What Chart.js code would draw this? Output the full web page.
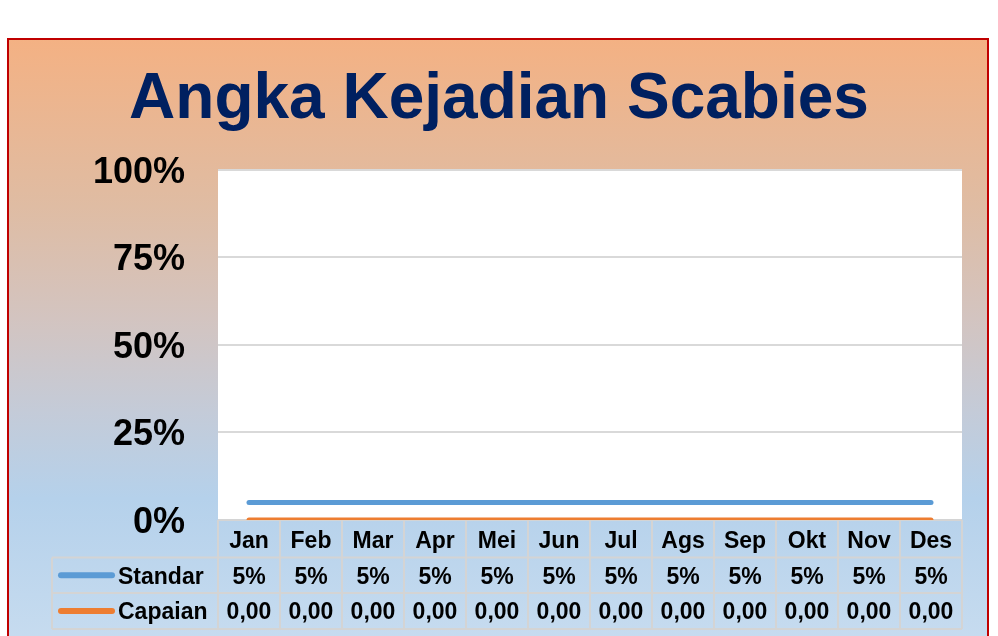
<!DOCTYPE html>
<html>
<head>
<meta charset="utf-8">
<title>Angka Kejadian Scabies</title>
<script src="https://cdn.jsdelivr.net/npm/chart.js@4"></script>
<style>
  html, body { margin: 0; padding: 0; background: #fff; }
  #wrap { width: 998px; height: 636px; }
</style>
</head>
<body>
<div id="wrap"><canvas id="scabiesChart" width="998" height="636"></canvas></div>
<script>
// Monthly data
const months = ["Jan", "Feb", "Mar", "Apr", "Mei", "Jun", "Jul", "Ags", "Sep", "Okt", "Nov", "Des"];
const standar = [0.05, 0.05, 0.05, 0.05, 0.05, 0.05, 0.05, 0.05, 0.05, 0.05, 0.05, 0.05];
const capaian = [0, 0, 0, 0, 0, 0, 0, 0, 0, 0, 0, 0];
const standarLabels = ["5%", "5%", "5%", "5%", "5%", "5%", "5%", "5%", "5%", "5%", "5%", "5%"];
const capaianLabels = ["0,00", "0,00", "0,00", "0,00", "0,00", "0,00", "0,00", "0,00", "0,00", "0,00", "0,00", "0,00"];
const yTicks = [0, 0.25, 0.5, 0.75, 1];

const FONT = "'Liberation Sans', Arial, sans-serif";
const BLUE = "#5B9BD5";
const ORANGE = "#ED7D31";

// Gradient panel with red frame behind the chart
const panelBackground = {
  id: "panelBackground",
  beforeDraw(chart) {
    const ctx = chart.ctx;
    ctx.save();
    ctx.fillStyle = "#ffffff";
    ctx.fillRect(0, 0, chart.width, chart.height);
    const top = 38, bottom = 660;
    const grad = ctx.createLinearGradient(0, top, 0, bottom);
    grad.addColorStop(0, "#F4B183");
    grad.addColorStop(0.27, "#DFBCA3");
    grad.addColorStop(0.45, "#D3C4C0");
    grad.addColorStop(0.6, "#C4CBD8");
    grad.addColorStop(0.74, "#B5D1EB");
    grad.addColorStop(1, "#C9DDF0");
    ctx.fillStyle = grad;
    ctx.fillRect(8, top, 981, bottom - top);
    // white plot area
    const a = chart.chartArea;
    ctx.fillStyle = "#ffffff";
    ctx.fillRect(a.left, a.top, a.right - a.left, a.bottom - a.top);
    ctx.strokeStyle = "#C00000";
    ctx.lineWidth = 2;
    ctx.strokeRect(8, top + 1, 980, bottom);
    ctx.restore();
  }
};

// Data table under the plot, columns follow the category scale
const dataTable = {
  id: "dataTable",
  beforeDatasetsDraw(chart) {
    const ctx = chart.ctx;
    const x = chart.scales.x;
    const a = chart.chartArea;
    const colW = (a.right - a.left) / months.length;
    const rowTops = [a.bottom, 557.5, 593, 629];
    const tableLeft = 52;

    ctx.save();
    ctx.strokeStyle = "#D4D4D4";
    ctx.lineWidth = 2;
    // horizontal lines
    ctx.beginPath();
    ctx.moveTo(a.left, rowTops[0]);
    ctx.lineTo(a.right, rowTops[0]);
    for (let r = 1; r < rowTops.length; r++) {
      ctx.moveTo(tableLeft, rowTops[r]);
      ctx.lineTo(a.right, rowTops[r]);
    }
    // vertical lines
    ctx.moveTo(tableLeft, rowTops[1]);
    ctx.lineTo(tableLeft, rowTops[3]);
    for (let i = 0; i <= months.length; i++) {
      const px = a.left + i * colW;
      ctx.moveTo(px, rowTops[0]);
      ctx.lineTo(px, rowTops[3]);
    }
    ctx.stroke();

    ctx.fillStyle = "#000000";
    ctx.font = "bold 23px " + FONT;
    ctx.textAlign = "center";
    ctx.textBaseline = "middle";
    months.forEach((m, i) => {
      const cx = x.getPixelForValue(i);
      ctx.fillText(m, cx, (rowTops[0] + rowTops[1]) / 2 + 3);
      ctx.fillText(standarLabels[i], cx, (rowTops[1] + rowTops[2]) / 2 + 2);
      ctx.fillText(capaianLabels[i], cx, (rowTops[2] + rowTops[3]) / 2 + 2);
    });

    // legend keys in row headers
    const rows = [
      { label: chart.data.datasets[0].label, color: BLUE, y: (rowTops[1] + rowTops[2]) / 2 },
      { label: chart.data.datasets[1].label, color: ORANGE, y: (rowTops[2] + rowTops[3]) / 2 }
    ];
    rows.forEach(r => {
      ctx.strokeStyle = r.color;
      ctx.lineWidth = 6;
      ctx.lineCap = "round";
      ctx.beginPath();
      ctx.moveTo(61, r.y);
      ctx.lineTo(112, r.y);
      ctx.stroke();
      ctx.textAlign = "left";
      ctx.fillText(r.label, 118, r.y + 2);
    });
    ctx.restore();
  }
};

const ctx = document.getElementById("scabiesChart").getContext("2d");
const chart = new Chart(ctx, {
  type: "line",
  data: {
    labels: months,
    datasets: [
      {
        label: "Standar",
        data: standar,
        borderColor: BLUE,
        borderWidth: 5,
        borderCapStyle: "round",
        pointRadius: 0,
        fill: false
      },
      {
        label: "Capaian",
        data: capaian,
        borderColor: ORANGE,
        borderWidth: 5,
        borderCapStyle: "round",
        pointRadius: 0,
        fill: false
      }
    ]
  },
  options: {
    responsive: false,
    animation: false,
    layout: { padding: { left: 0, right: 0, top: 0, bottom: 116 } },
    plugins: {
      legend: { display: false },
      tooltip: { enabled: false },
      title: {
        display: true,
        text: "Angka Kejadian Scabies",
        color: "#002060",
        font: { family: FONT, size: 64, weight: "bold" },
        padding: { top: 62, bottom: 31 }
      }
    },
    scales: {
      x: {
        display: false,
        offset: true
      },
      y: {
        min: 0,
        max: 1,
        afterBuildTicks(scale) {
          scale.ticks = yTicks.map(v => ({ value: v }));
        },
        afterFit(scale) {
          scale.width = 218;
        },
        border: { display: false },
        grid: { color: "#D9D9D9", lineWidth: 2, drawTicks: false },
        ticks: {
          padding: 33,
          labelOffset: 3,
          color: "#000000",
          font: { family: FONT, size: 36, weight: "bold" },
          callback: v => Math.round(v * 100) + "%"
        }
      },
      // empty strip on the right side of the plot
      yRight: {
        position: "right",
        min: 0,
        max: 1,
        afterFit(scale) {
          scale.width = 36;
        },
        border: { display: false },
        grid: { display: false },
        ticks: { display: false }
      }
    }
  },
  plugins: [panelBackground, dataTable]
});
</script>
</body>
</html>
